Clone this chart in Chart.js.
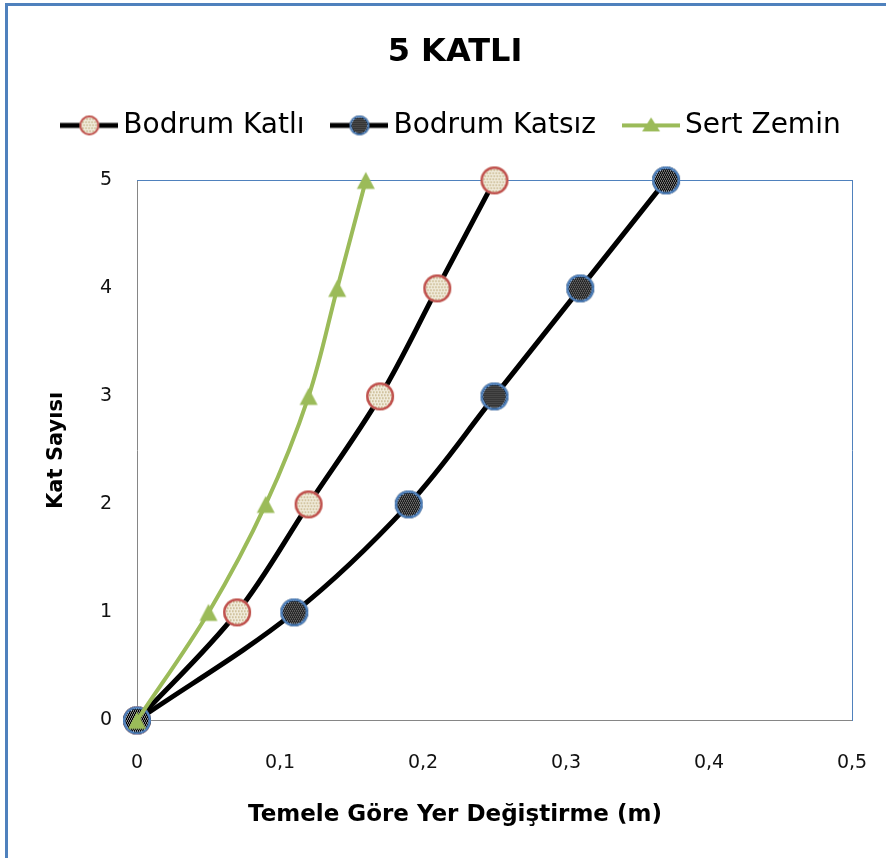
<!DOCTYPE html>
<html>
<head>
<meta charset="utf-8">
<title>5 KATLI</title>
<script src="https://cdn.jsdelivr.net/npm/chart.js@4/dist/chart.umd.min.js"></script>
<style>
  html, body { margin: 0; padding: 0; background: #ffffff; }
  #wrap { width: 886px; height: 858px; position: relative; }
</style>
</head>
<body>
<div id="wrap"><canvas id="chart" width="886" height="858"></canvas></div>
<script>
// Floors (y) and lateral displacement relative to the foundation (x, metres)
const floors = [0, 1, 2, 3, 4, 5];
const bodrumKatli = [0, 0.07, 0.12, 0.17, 0.21, 0.25];
const bodrumKatsiz = [0, 0.11, 0.19, 0.25, 0.31, 0.37];
const sertZemin = [0, 0.05, 0.09, 0.12, 0.14, 0.16];
const seriesNames = ['Bodrum Katlı', 'Bodrum Katsız', 'Sert Zemin'];
const xTickLabels = ['0', '0,1', '0,2', '0,3', '0,4', '0,5'];
const yTickLabels = ['0', '1', '2', '3', '4', '5'];
const chartTitle = '5 KATLI';
const xTitle = 'Temele Göre Yer Değiştirme (m)';
const yTitle = 'Kat Sayısı';

const RED = '#C0504D', BLUE = '#4F81BD', GREEN = '#9BBB59', AXIS = '#868686';

// Patterned fills for the circular markers
function fillDotted(ctx, w, h) {
  ctx.fillStyle = '#F3EEDF';
  ctx.fillRect(0, 0, w, h);
  ctx.fillStyle = '#BDAA7A';
  for (let y = 0; y < h; y += 3) {
    for (let x = (y / 3) % 2 ? 1 : 0; x < w; x += 3) {
      ctx.fillRect(x, y, 1.5, 1.5);
    }
  }
}
function fillChecker(ctx, w, h) {
  ctx.fillStyle = '#000000';
  ctx.fillRect(0, 0, w, h);
  ctx.fillStyle = '#ffffff';
  for (let y = 0; y < h; y += 2) {
    for (let x = (y / 2) % 2 ? 1 : 0; x < w; x += 2) ctx.fillRect(x, y, 1, 1);
  }
}

function circleMarker(cnv, cx, cy, r, fill, stroke, bw) {
  const ctx = cnv.getContext('2d');
  ctx.save();
  ctx.beginPath();
  ctx.arc(cx, cy, r, 0, Math.PI * 2);
  ctx.clip();
  ctx.translate(cx - r, cy - r);
  fill(ctx, 2 * r, 2 * r);
  ctx.restore();
  ctx.beginPath();
  ctx.arc(cx, cy, r - bw / 2, 0, Math.PI * 2);
  ctx.lineWidth = bw;
  ctx.strokeStyle = stroke;
  ctx.stroke();
}

function triangleMarker(cnv, cx, cy, w, h, color) {
  const ctx = cnv.getContext('2d');
  ctx.beginPath();
  ctx.moveTo(cx, cy - h / 2);
  ctx.lineTo(cx + w / 2, cy + h / 2);
  ctx.lineTo(cx - w / 2, cy + h / 2);
  ctx.closePath();
  ctx.fillStyle = color;
  ctx.fill();
}

function makeCanvas(w, h) {
  const c = document.createElement('canvas');
  c.width = w; c.height = h;
  return c;
}

// Point styles used on the plot
const ptKatli = makeCanvas(30, 30);
circleMarker(ptKatli, 15, 15, 14, fillDotted, RED, 2.5);
const ptKatsiz = makeCanvas(30, 30);
circleMarker(ptKatsiz, 15, 15, 14, fillChecker, BLUE, 2.5);
const ptSert = makeCanvas(22, 22);
triangleMarker(ptSert, 11, 11, 18, 17, GREEN);

// Legend icons: short line segment with the marker in the middle
function legendIcon(lineColor, lineWidth, drawMarker) {
  const c = makeCanvas(58, 24);
  const ctx = c.getContext('2d');
  ctx.fillStyle = lineColor;
  ctx.fillRect(0, 12 - lineWidth / 2, 58, lineWidth);
  drawMarker(c);
  return c;
}
const legendIcons = [
  legendIcon('#000000', 5, c => circleMarker(c, 29, 12, 10, fillDotted, RED, 2)),
  legendIcon('#000000', 5, c => circleMarker(c, 29, 12, 10, fillChecker, BLUE, 2)),
  legendIcon(GREEN, 4, c => triangleMarker(c, 29, 11, 18, 14, GREEN))
];

function toPoints(xs) { return xs.map((x, i) => ({ x: x, y: floors[i] })); }

// Outer frame of the chart object
const framePlugin = {
  id: 'frame',
  beforeDraw(chart) {
    const ctx = chart.ctx;
    ctx.save();
    ctx.fillStyle = BLUE;
    ctx.fillRect(5, 3, 3, chart.height - 3);
    ctx.fillRect(5, 3, chart.width - 5, 3);
    ctx.restore();
  }
};

Chart.defaults.font.family = "'DejaVu Sans', sans-serif";
Chart.defaults.color = '#000000';

new Chart(document.getElementById('chart'), {
  type: 'scatter',
  data: {
    datasets: [
      { label: seriesNames[0], data: toPoints(bodrumKatli), showLine: true, borderColor: '#000000',
        borderWidth: 5, pointStyle: ptKatli, tension: 0.35, order: 3, clip: false },
      { label: seriesNames[1], data: toPoints(bodrumKatsiz), showLine: true, borderColor: '#000000',
        borderWidth: 5, pointStyle: ptKatsiz, tension: 0.35, order: 2, clip: false },
      { label: seriesNames[2], data: toPoints(sertZemin), showLine: true, borderColor: GREEN,
        borderWidth: 4, pointStyle: ptSert, tension: 0.35, order: 1, clip: false }
    ]
  },
  options: {
    responsive: false,
    animation: false,
    events: [],
    layout: { padding: { left: 24, right: 0, top: 0, bottom: 0 } },
    plugins: {
      tooltip: { enabled: false },
      title: {
        display: true, text: chartTitle, color: '#000000',
        font: { size: 32, weight: 'bold' },
        padding: { top: 33, bottom: 5 }
      },
      subtitle: {
        display: true, text: xTitle, position: 'bottom', color: '#000000',
        font: { size: 23, weight: 'bold' },
        padding: { top: 21, bottom: 29 }
      },
      legend: {
        display: true, position: 'top',
        labels: {
          usePointStyle: true,
          pointStyleWidth: 40,
          padding: 35,
          color: '#000000',
          font: { size: 28 },
          sort: (a, b) => a.datasetIndex - b.datasetIndex,
          generateLabels(chart) {
            const items = Chart.defaults.plugins.legend.labels.generateLabels(chart);
            items.forEach(it => { it.pointStyle = legendIcons[it.datasetIndex]; });
            return items;
          }
        }
      }
    },
    scales: {
      x: {
        type: 'linear', position: 'bottom', min: 0, max: 0.5,
        grid: { display: false, drawTicks: false },
        border: { display: true, color: AXIS, width: 1 },
        ticks: {
          stepSize: 0.1, padding: 0, color: '#111111', font: { size: 19, lineHeight: '86px' },
          callback: (v, i) => xTickLabels[i]
        },
        afterFit: s => { s.height = 60; }
      },
      y: {
        type: 'linear', position: 'left', min: 0, max: 5,
        grid: { display: false, drawTicks: false },
        border: { display: true, color: AXIS, width: 1 },
        title: { display: true, text: yTitle, color: '#000000', font: { size: 21, weight: 'bold' },
                 padding: { top: 20, bottom: 0 } },
        ticks: {
          stepSize: 1, padding: 25, color: '#111111', font: { size: 19 },
          callback: (v, i) => yTickLabels[i]
        },
        afterFit: s => { s.width = 113; }
      },
      x2: {
        type: 'linear', position: 'top', min: 0, max: 0.5,
        grid: { display: false, drawTicks: false },
        border: { display: true, color: BLUE, width: 1 },
        ticks: { display: false },
        afterFit: s => { s.height = 31; }
      },
      y2: {
        type: 'linear', position: 'right', min: 0, max: 5,
        grid: { display: false, drawTicks: false },
        border: { display: true, color: BLUE, width: 1 },
        ticks: { display: false },
        afterFit: s => { s.width = 34; }
      }
    }
  },
  plugins: [framePlugin]
});
</script>
</body>
</html>
